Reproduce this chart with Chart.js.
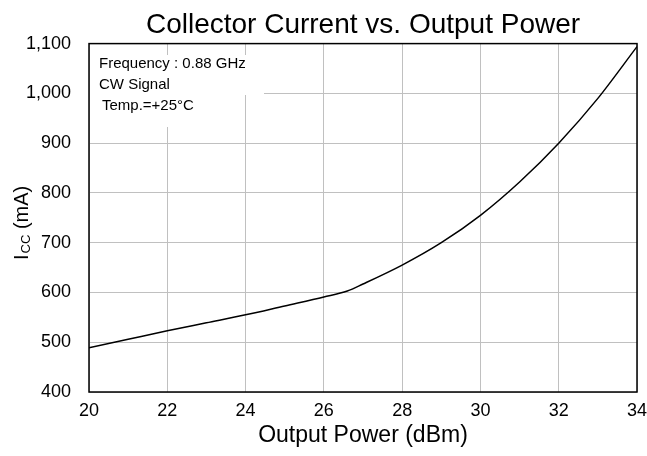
<!DOCTYPE html>
<html>
<head>
<meta charset="utf-8">
<script src="https://cdn.jsdelivr.net/npm/chart.js@4"></script>
<style>
    html, body { margin: 0; padding: 0; background: #fff; }
    #wrap { width: 647px; height: 456px; }
</style>
</head>
<body>
<div id="wrap"><canvas id="myChart" width="647" height="456"></canvas></div>
<script>
// values
const outputPower = [20, 21, 22, 23, 24, 25, 26, 26.6, 27, 28, 29, 30, 31, 32, 33, 34];
const collectorCurrent = [489, 506, 523, 539, 555, 573, 591, 603, 617, 655, 700, 755, 822, 900, 990, 1094];
const xTicks = [20, 22, 24, 26, 28, 30, 32, 34];
const yTicks = [400, 500, 600, 700, 800, 900, 1000, 1100];
const noteLines = ['Frequency : 0.88 GHz', 'CW Signal', 'Temp.=+25\u00B0C'];

const fontName = "'Liberation Sans', Arial, sans-serif";

const points = outputPower.map((p, i) => ({ x: p, y: collectorCurrent[i] }));

// frame, note box and the y title with its subscript
const extras = {
    id: 'extras',
    afterDraw(chart) {
        const ctx = chart.ctx;
        const a = chart.chartArea;
        ctx.save();

        ctx.fillStyle = '#fff';
        ctx.fillRect(a.left + 1, 55, 174, 40);
        ctx.fillRect(a.left + 1, 95, 150, 32);

        ctx.fillStyle = '#000';
        ctx.font = '15px ' + fontName;
        ctx.textBaseline = 'alphabetic';
        ctx.fillText(noteLines[0], 99, 68);
        ctx.fillText(noteLines[1], 99, 89);
        ctx.fillText(noteLines[2], 102, 110);

        ctx.strokeStyle = '#000';
        ctx.lineWidth = 1.5;
        ctx.strokeRect(a.left, a.top, a.right - a.left, a.bottom - a.top);

        ctx.translate(28, 260);
        ctx.rotate(-Math.PI / 2);
        ctx.font = '20px ' + fontName;
        ctx.fillText('I', 0, 0);
        let w = ctx.measureText('I').width + 1;
        ctx.font = '13px ' + fontName;
        ctx.fillText('CC', w, 2);
        w += ctx.measureText('CC').width;
        ctx.font = '20px ' + fontName;
        ctx.fillText(' (mA)', w, 0);
        ctx.restore();
    }
};

const ctx = document.getElementById('myChart').getContext('2d');
const chart = new Chart(ctx, {
    type: 'line',
    data: {
        datasets: [{
            data: points,
            borderColor: '#000',
            borderWidth: 1.5,
            pointRadius: 0,
            fill: false,
            cubicInterpolationMode: 'monotone',
        }],
    },
    options: {
        responsive: false,
        animation: false,
        layout: { padding: { left: 0, right: 10, top: 0, bottom: 0 } },
        plugins: {
            legend: { display: false },
            tooltip: { enabled: false },
            title: {
                display: true,
                text: 'Collector Current vs. Output Power',
                fullSize: false,
                color: '#000',
                font: { family: fontName, size: 28, weight: 'normal' },
                padding: { top: 8, bottom: 2 },
            },
        },
        scales: {
            x: {
                type: 'linear',
                min: 20,
                max: 34,
                afterBuildTicks: scale => { scale.ticks = xTicks.map(v => ({ value: v })); },
                afterFit: scale => {
                    scale.height = 64;
                    scale.paddingLeft = 0;
                    scale.paddingRight = 0;
                },
                grid: { color: '#c0c0c0', lineWidth: 1, drawTicks: false },
                border: { display: false },
                ticks: {
                    color: '#000',
                    padding: 8,
                    maxRotation: 0,
                    font: { family: fontName, size: 18 },
                },
                title: {
                    display: true,
                    text: 'Output Power (dBm)',
                    color: '#000',
                    font: { family: fontName, size: 23 },
                    padding: { top: 0, bottom: 7 },
                },
            },
            y: {
                min: 400,
                max: 1100,
                afterBuildTicks: scale => { scale.ticks = yTicks.map(v => ({ value: v })); },
                afterFit: scale => { scale.width = 89; },
                grid: { color: '#c0c0c0', lineWidth: 1, drawTicks: false },
                border: { display: false },
                ticks: {
                    color: '#000',
                    padding: 18,
                    font: { family: fontName, size: 18 },
                    callback: v => v.toLocaleString('en-US'),
                },
            },
        },
    },
    plugins: [extras],
});
</script>
</body>
</html>
